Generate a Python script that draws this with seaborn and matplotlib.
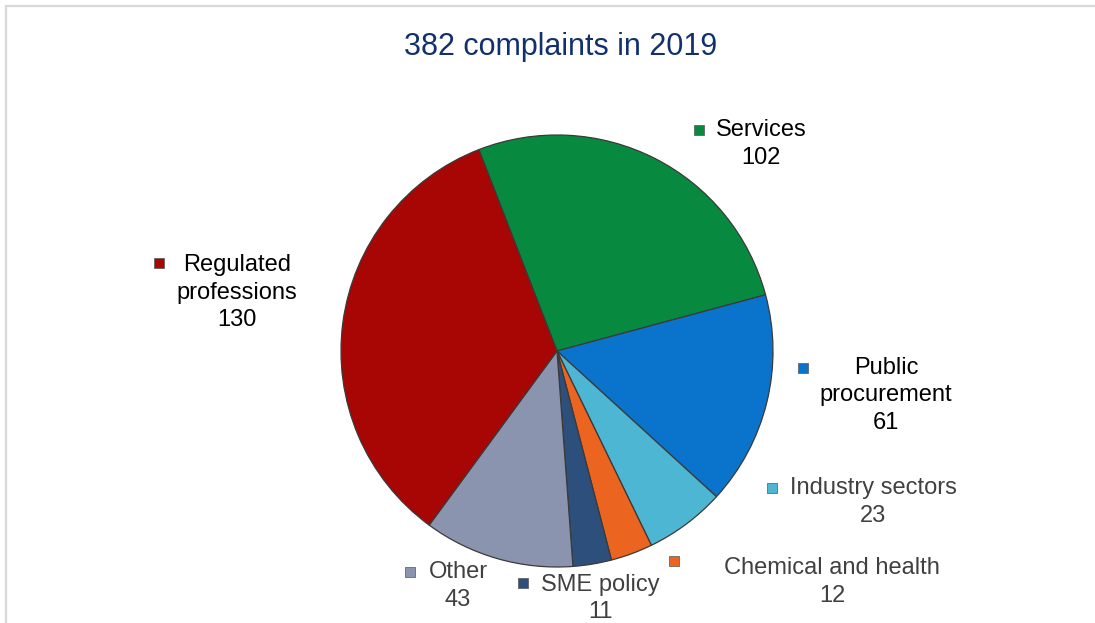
import matplotlib
matplotlib.use("Agg")
import matplotlib.pyplot as plt
import seaborn as sns

# ---- data ----
categories = ["Services", "Public procurement", "Industry sectors",
              "Chemical and health", "SME policy", "Other", "Regulated professions"]
values = [102, 61, 23, 12, 11, 43, 130]
label_lines = [["Services", "102"],
               ["Public", "procurement", "61"],
               ["Industry sectors", "23"],
               ["Chemical and health", "12"],
               ["SME policy", "11"],
               ["Other", "43"],
               ["Regulated", "professions", "130"]]
title = "382 complaints in 2019"

colors = ["#078A3F", "#0A73CC", "#4DB6D3", "#EB6420", "#2D4F7C", "#8A94AF", "#A80505"]
text_colors = ["#000000", "#000000", "#404040", "#404040", "#404040", "#404040", "#000000"]

# layout (pixel coords, y measured from top)
W, H = 1095, 623
center_px = (557, 351)
radius_px = 216
# (marker x, marker y, text block center x, first line y)
label_layout = [(699, 130, 761, 130),
                (803, 368, 886, 368),
                (772, 488, 873, 488),
                (674, 561, 832, 568),
                (523, 583, 600, 585),
                (410, 572, 458, 572),
                (159, 263, 237, 265)]
line_gap = 27.5

sns.set_theme(style="white")
plt.rcParams['font.family'] = ['Liberation Sans', 'DejaVu Sans']

fig = plt.figure(figsize=(W / 100, H / 100), dpi=100)
fig.patch.set_facecolor("white")
ax = fig.add_axes([0, 0, 1, 1])

def Y(y):
    return H - y

ax.pie(values, colors=colors, startangle=111.2, counterclock=False,
       center=(center_px[0], Y(center_px[1])), radius=radius_px,
       wedgeprops=dict(edgecolor="#3a3a3a", linewidth=0.9))

ax.set_xlim(0, W)
ax.set_ylim(0, H)
ax.set_aspect("equal")
ax.axis("off")

# frame
ax.plot([5, W], [Y(5.5), Y(5.5)], color="#D9D9D9", lw=1.6, solid_capstyle="butt")
ax.plot([6, 6], [Y(5), 0], color="#D9D9D9", lw=1.6, solid_capstyle="butt")

ax.text(561, Y(47), title, ha="center", va="center", fontsize=22, color="#13306E")

for (mx, my, tx, ty), lines, c, tc in zip(label_layout, label_lines, colors, text_colors):
    ax.scatter([mx], [Y(my)], marker="s", s=55, color=c, edgecolors="#555555",
               linewidths=0.5, zorder=5)
    for i, line in enumerate(lines):
        ax.text(tx, Y(ty + i * line_gap), line, ha="center", va="center",
                fontsize=17, color=tc)

fig.savefig("out.png", dpi=100, facecolor="white")
